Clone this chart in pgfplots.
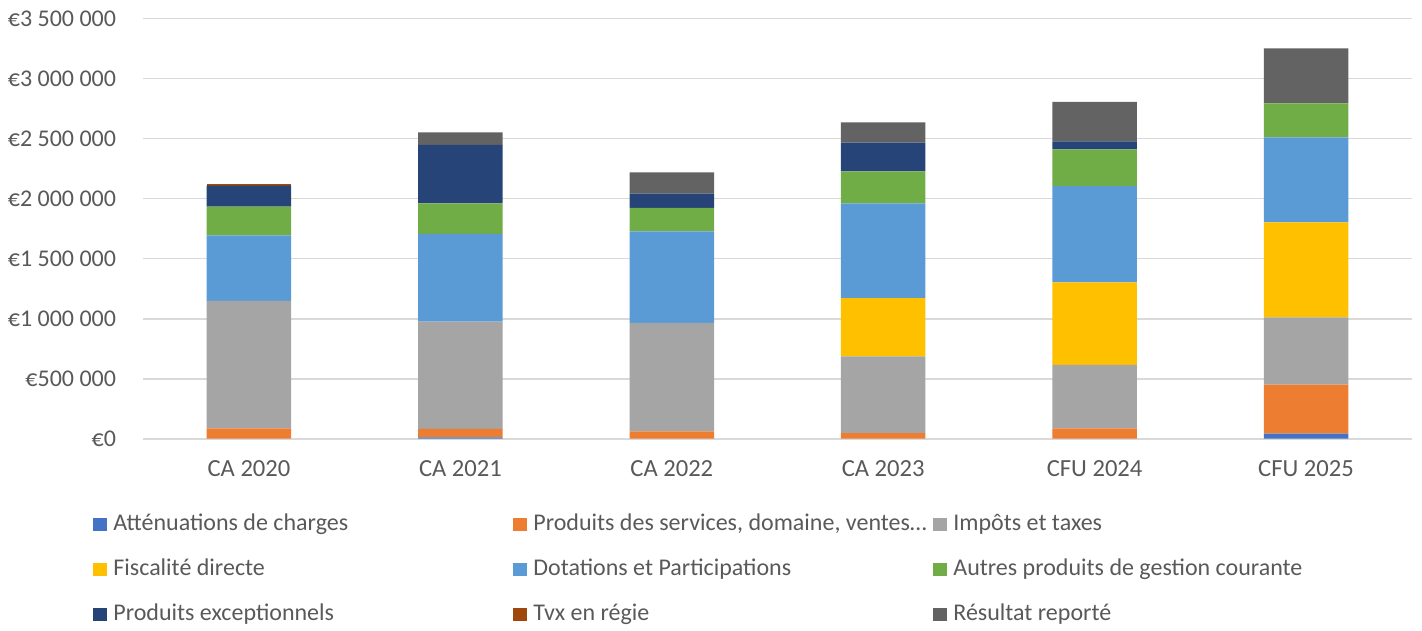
\documentclass[border=0pt]{standalone}
\usepackage{fontspec}
\setmainfont{Carlito}
\usepackage{pgfplots}
\pgfplotsset{compat=1.18}
\definecolor{cA}{HTML}{4472C4}
\definecolor{cB}{HTML}{ED7D31}
\definecolor{cC}{HTML}{A5A5A5}
\definecolor{cD}{HTML}{FFC000}
\definecolor{cE}{HTML}{5B9BD5}
\definecolor{cF}{HTML}{70AD47}
\definecolor{cG}{HTML}{264478}
\definecolor{cH}{HTML}{9E480E}
\definecolor{cI}{HTML}{636363}
\definecolor{txt}{HTML}{595959}
\definecolor{grd}{HTML}{D9D9D9}
\newcommand{\lgc}[1]{\makebox[199.95bp][l]{#1}}
\begin{document}
\begin{tikzpicture}
\path[use as bounding box] (-71.65bp,-96.15bp) rectangle (639.35bp,219.35bp);
\begin{axis}[at={(0,0)}, anchor=south west, scale only axis,
  width=634.2bp, height=210bp,
  ybar stacked, bar width=42.25bp,
  xmin=-0.5, xmax=5.5, ymin=0, ymax=3500000,
  xtick={0,1,2,3,4,5},
  xticklabels={CA 2020,CA 2021,CA 2022,CA 2023,CFU 2024,CFU 2025},
  ytick={0,500000,1000000,1500000,2000000,2500000,3000000,3500000},
  yticklabels={€0,€500 000,€1 000 000,€1 500 000,€2 000 000,€2 500 000,€3 000 000,€3 500 000},
  scaled y ticks=false,
  major tick length=0pt,
  axis line style={draw=none},
  ymajorgrids, grid style={draw=grd, line width=0.8bp},
  xticklabel style={font=\fontsize{12.3bp}{14bp}\selectfont, text=txt, yshift=-7.2bp},
  yticklabel style={font=\fontsize{12bp}{14bp}\selectfont, text=txt, xshift=-10.1bp},
  legend columns=3,
  legend style={at={(0,0)}, anchor=north west, xshift=-25bp, yshift=-37.5bp,
    draw=none, fill=none, inner sep=0pt, outer sep=0pt, row sep=11.5bp,
    font=\fontsize{12bp}{14bp}\selectfont, text=txt,
    nodes={inner sep=0pt, text height=8.5bp, text depth=2.5bp},
    /tikz/every odd column/.style={column sep=3.35bp},
    /tikz/every even column/.style={column sep=0pt}},
  legend cell align=left,
  legend image code/.code={\fill[#1,draw=none] (0bp,-3.35bp) rectangle (6.7bp,3.35bp);},
  every axis plot/.append style={draw=none},
]
\addplot[fill=cA] coordinates {(0,0) (1,12000) (2,0) (3,0) (4,0) (5,41700)};
\addplot[fill=cB] coordinates {(0,86700) (1,69000) (2,62000) (3,47500) (4,86700) (5,408000)};
\addplot[fill=cC] coordinates {(0,1061000) (1,894000) (2,902500) (3,639000) (4,527500) (5,561700)};
\addplot[fill=cD] coordinates {(0,0) (1,0) (2,0) (3,486000) (4,689000) (5,791700)};
\addplot[fill=cE] coordinates {(0,547500) (1,731000) (2,764000) (3,789000) (4,802500) (5,708000)};
\addplot[fill=cF] coordinates {(0,238000) (1,255000) (2,194000) (3,267000) (4,306000) (5,283000)};
\addplot[fill=cG] coordinates {(0,175000) (1,488000) (2,119000) (3,238000) (4,66700) (5,0)};
\addplot[fill=cH] coordinates {(0,14000) (1,0) (2,0) (3,0) (4,0) (5,0)};
\addplot[fill=cI] coordinates {(0,0) (1,103000) (2,178000) (3,170000) (4,327500) (5,458000)};
\legend{{\lgc{Atténuations de charges}},{\lgc{Produits des services, domaine, ventes…}},{\lgc{Impôts et taxes}},{\lgc{Fiscalité directe}},{\lgc{Dotations et Participations}},{\lgc{Autres produits de gestion courante}},{\lgc{Produits exceptionnels}},{\lgc{Tvx en régie}},{\lgc{Résultat reporté}}}
\end{axis}
\end{tikzpicture}
\end{document}
